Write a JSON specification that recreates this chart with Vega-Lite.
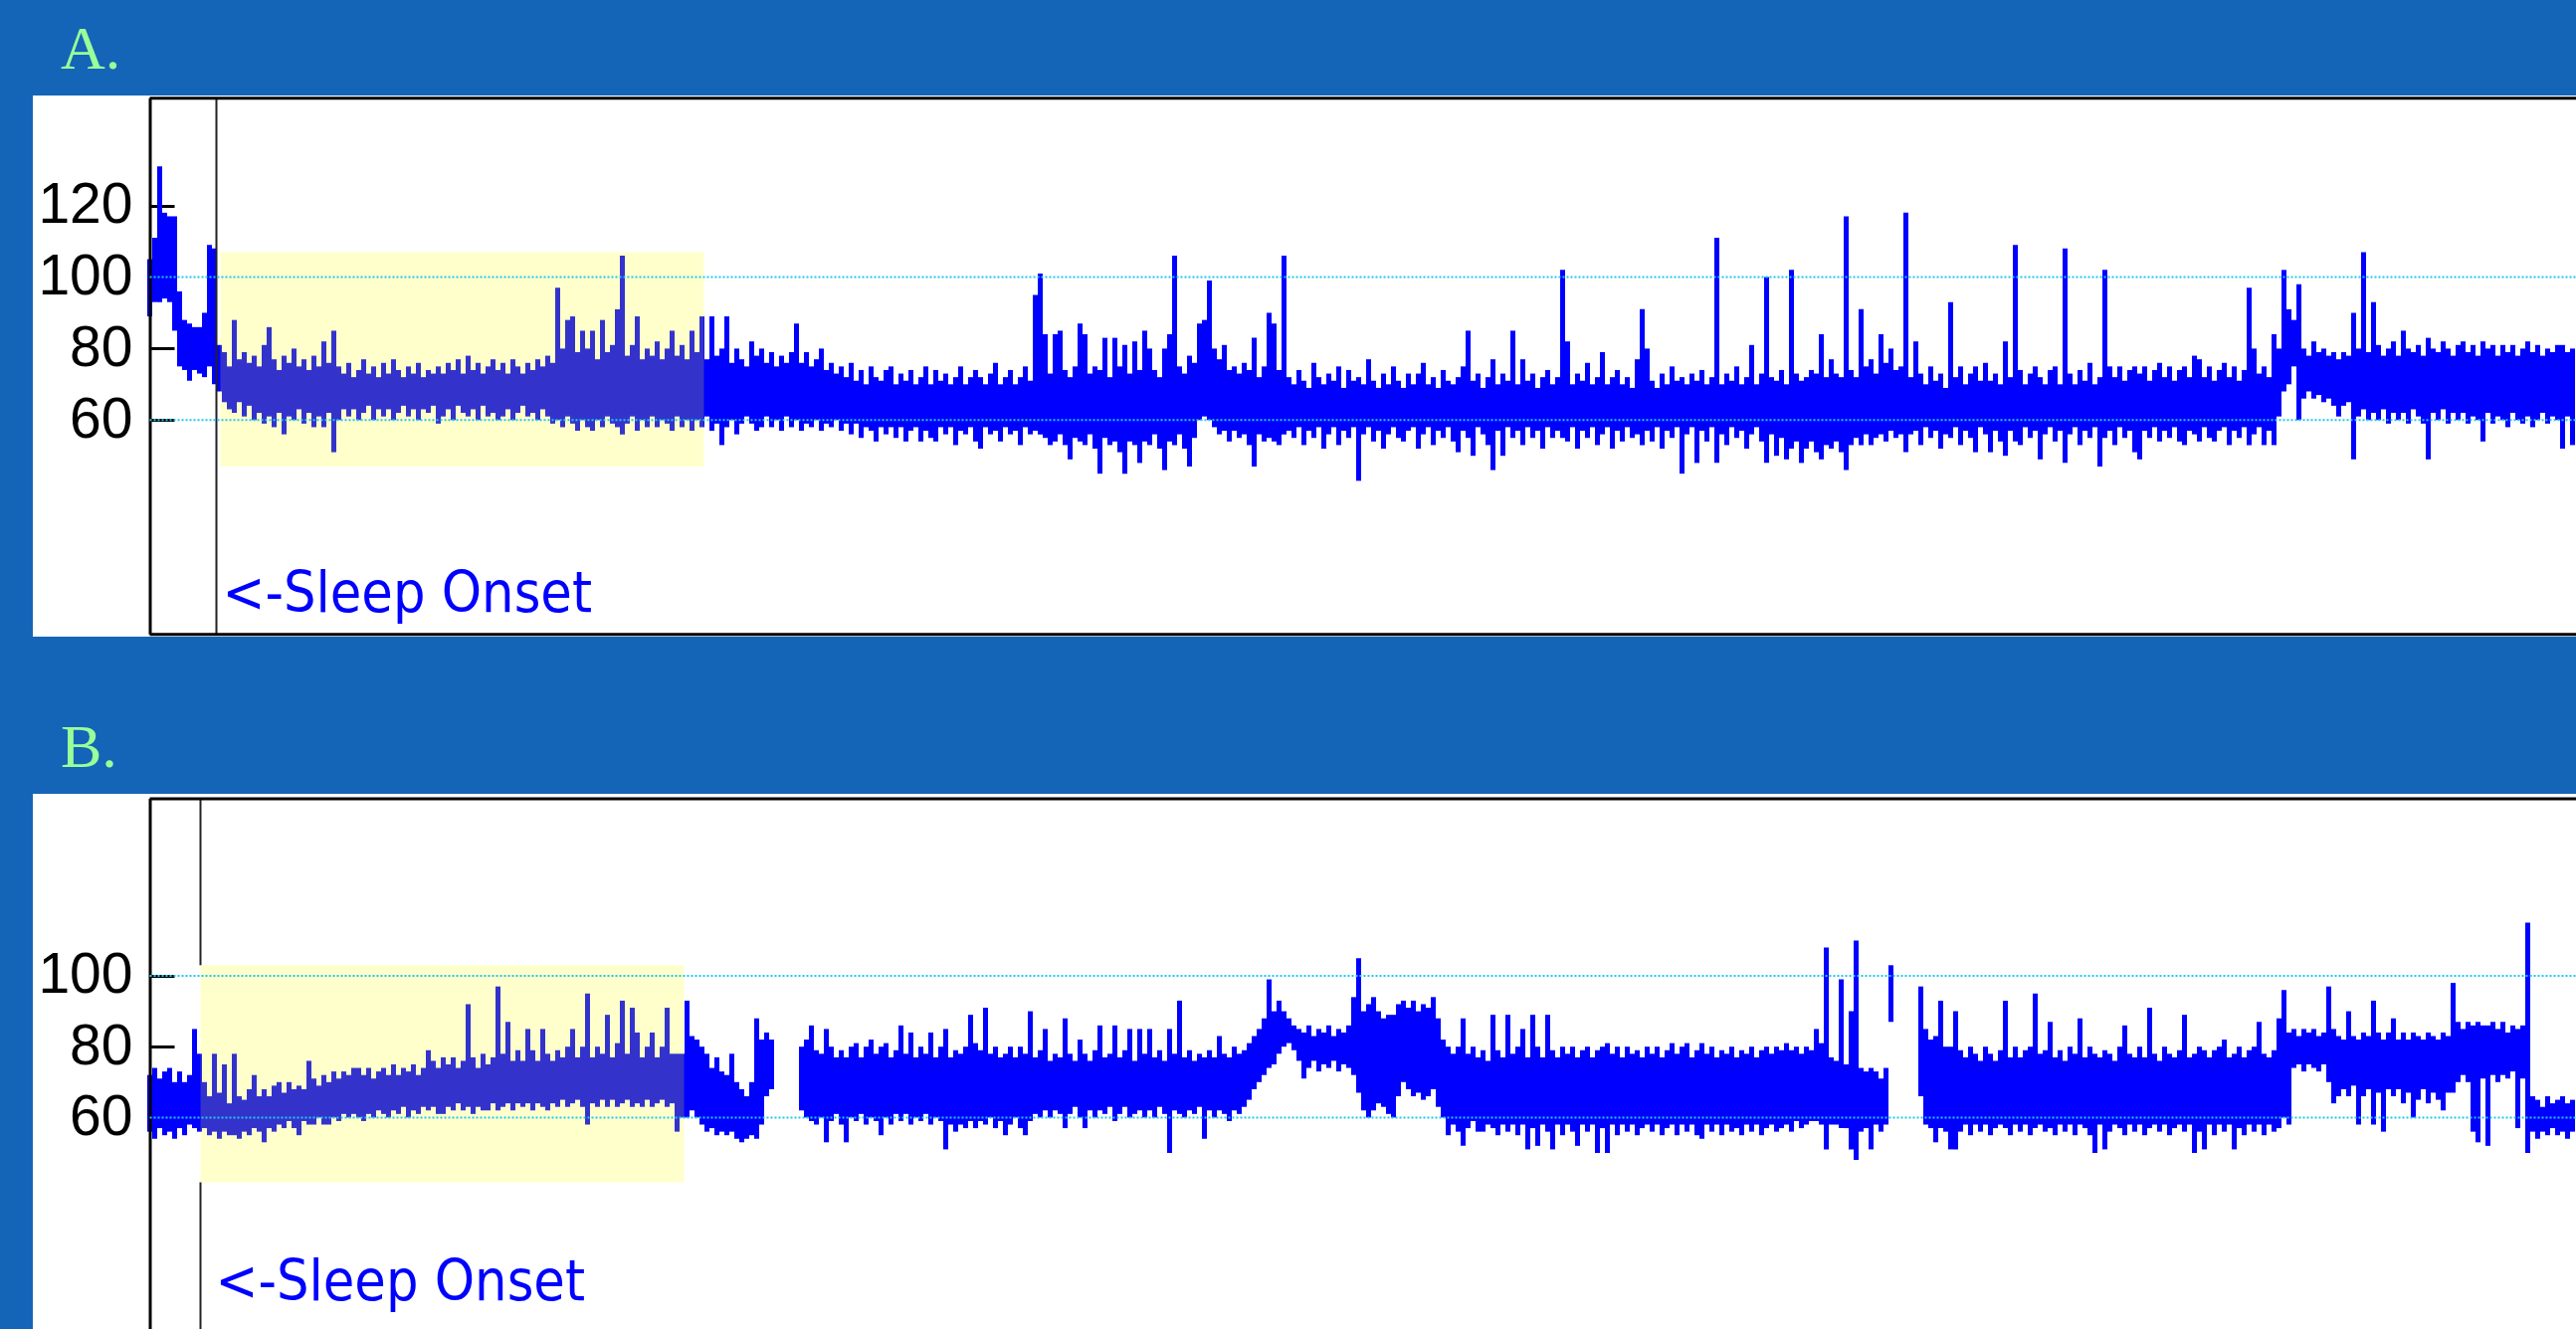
{
"$schema":"https://vega.github.io/schema/vega-lite/v6.json",
"background":"#1465B8",
"padding":{"left":33,"top":19,"right":0,"bottom":0},
"spacing":81,
"config":{"view":{"fill":"white","stroke":null},"title":{"font":"Liberation Serif, Times New Roman, serif","fontSize":62,"fontWeight":"normal","color":"#99FF99","anchor":"start","baseline":"alphabetic","dx":28},
"axisY":{"title":null,"grid":false,"offset":-118,"domain":false,"tickColor":"black","tickWidth":3,"tickSize":-24,"labelPadding":42,"labelFont":"Liberation Sans Narrow, Arial Narrow, Liberation Sans, sans-serif","labelFontSize":57,"labelColor":"black","labelFlush":false,"labelOverlap":false,"zindex":0}},
"datasets":{
"a":[{"t":0,"l":89,"h":105},{"t":1,"l":93,"h":111},{"t":2,"l":93,"h":131},{"t":3,"l":94,"h":118},{"t":4,"l":93,"h":117},{"t":5,"l":85,"h":117},{"t":6,"l":75,"h":96},{"t":7,"l":74,"h":88},{"t":8,"l":71,"h":87},{"t":9,"l":74,"h":86},{"t":10,"l":73,"h":86},{"t":11,"l":72,"h":90},{"t":12,"l":75,"h":109},{"t":13,"l":70,"h":108},{"t":14,"l":68,"h":81},{"t":15,"l":65,"h":79},{"t":16,"l":63,"h":75},{"t":17,"l":62,"h":88},{"t":18,"l":65,"h":77},{"t":19,"l":61,"h":79},{"t":20,"l":64,"h":76},{"t":21,"l":60,"h":78},{"t":22,"l":62,"h":75},{"t":23,"l":59,"h":81},{"t":24,"l":61,"h":86},{"t":25,"l":58,"h":77},{"t":26,"l":62,"h":74},{"t":27,"l":56,"h":78},{"t":28,"l":61,"h":76},{"t":29,"l":60,"h":80},{"t":30,"l":63,"h":75},{"t":31,"l":59,"h":77},{"t":32,"l":62,"h":74},{"t":33,"l":58,"h":78},{"t":34,"l":61,"h":75},{"t":35,"l":58,"h":82},{"t":36,"l":62,"h":76},{"t":37,"l":51,"h":85},{"t":38,"l":60,"h":75},{"t":39,"l":63,"h":73},
{"t":40,"l":61,"h":76},{"t":41,"l":63,"h":72},{"t":42,"l":60,"h":74},{"t":43,"l":62,"h":77},{"t":44,"l":64,"h":73},{"t":45,"l":60,"h":75},{"t":46,"l":63,"h":72},{"t":47,"l":61,"h":76},{"t":48,"l":63,"h":73},{"t":49,"l":60,"h":77},{"t":50,"l":62,"h":74},{"t":51,"l":64,"h":72},{"t":52,"l":61,"h":75},{"t":53,"l":63,"h":73},{"t":54,"l":60,"h":76},{"t":55,"l":63,"h":72},{"t":56,"l":62,"h":74},{"t":57,"l":64,"h":73},{"t":58,"l":59,"h":75},{"t":59,"l":61,"h":73},{"t":60,"l":63,"h":76},{"t":61,"l":60,"h":74},{"t":62,"l":64,"h":77},{"t":63,"l":62,"h":73},{"t":64,"l":61,"h":78},{"t":65,"l":63,"h":74},{"t":66,"l":60,"h":76},{"t":67,"l":64,"h":73},{"t":68,"l":61,"h":75},{"t":69,"l":62,"h":77},{"t":70,"l":60,"h":74},{"t":71,"l":61,"h":76},{"t":72,"l":63,"h":73},{"t":73,"l":60,"h":77},{"t":74,"l":62,"h":75},{"t":75,"l":64,"h":73},{"t":76,"l":61,"h":76},{"t":77,"l":62,"h":74},{"t":78,"l":60,"h":77},{"t":79,"l":63,"h":75},
{"t":80,"l":61,"h":78},{"t":81,"l":59,"h":76},{"t":82,"l":60,"h":97},{"t":83,"l":58,"h":80},{"t":84,"l":61,"h":88},{"t":85,"l":59,"h":89},{"t":86,"l":57,"h":79},{"t":87,"l":60,"h":85},{"t":88,"l":58,"h":80},{"t":89,"l":57,"h":85},{"t":90,"l":60,"h":77},{"t":91,"l":58,"h":88},{"t":92,"l":61,"h":79},{"t":93,"l":59,"h":81},{"t":94,"l":58,"h":91},{"t":95,"l":56,"h":106},{"t":96,"l":59,"h":78},{"t":97,"l":61,"h":81},{"t":98,"l":57,"h":89},{"t":99,"l":60,"h":77},{"t":100,"l":58,"h":80},{"t":101,"l":61,"h":78},{"t":102,"l":58,"h":82},{"t":103,"l":60,"h":77},{"t":104,"l":59,"h":80},{"t":105,"l":57,"h":85},{"t":106,"l":61,"h":78},{"t":107,"l":58,"h":81},{"t":108,"l":60,"h":77},{"t":109,"l":57,"h":85},{"t":110,"l":60,"h":79},{"t":111,"l":58,"h":89},{"t":112,"l":61,"h":77},{"t":113,"l":57,"h":89},{"t":114,"l":59,"h":78},{"t":115,"l":53,"h":80},{"t":116,"l":58,"h":89},{"t":117,"l":60,"h":76},{"t":118,"l":56,"h":80},{"t":119,"l":59,"h":77},
{"t":120,"l":61,"h":75},{"t":121,"l":59,"h":82},{"t":122,"l":57,"h":78},{"t":123,"l":58,"h":80},{"t":124,"l":61,"h":76},{"t":125,"l":58,"h":79},{"t":126,"l":60,"h":75},{"t":127,"l":57,"h":78},{"t":128,"l":61,"h":76},{"t":129,"l":58,"h":79},{"t":130,"l":60,"h":87},{"t":131,"l":57,"h":76},{"t":132,"l":59,"h":79},{"t":133,"l":58,"h":75},{"t":134,"l":60,"h":77},{"t":135,"l":57,"h":80},{"t":136,"l":59,"h":74},{"t":137,"l":58,"h":76},{"t":138,"l":60,"h":73},{"t":139,"l":57,"h":75},{"t":140,"l":59,"h":72},{"t":141,"l":56,"h":76},{"t":142,"l":59,"h":71},{"t":143,"l":55,"h":74},{"t":144,"l":58,"h":70},{"t":145,"l":57,"h":75},{"t":146,"l":54,"h":72},{"t":147,"l":58,"h":71},{"t":148,"l":56,"h":74},{"t":149,"l":58,"h":75},{"t":150,"l":55,"h":70},{"t":151,"l":58,"h":73},{"t":152,"l":54,"h":71},{"t":153,"l":57,"h":74},{"t":154,"l":58,"h":70},{"t":155,"l":54,"h":72},{"t":156,"l":57,"h":75},{"t":157,"l":55,"h":70},{"t":158,"l":54,"h":74},{"t":159,"l":58,"h":71},
{"t":160,"l":56,"h":73},{"t":161,"l":58,"h":70},{"t":162,"l":53,"h":72},{"t":163,"l":57,"h":75},{"t":164,"l":56,"h":70},{"t":165,"l":58,"h":72},{"t":166,"l":54,"h":74},{"t":167,"l":52,"h":72},{"t":168,"l":58,"h":70},{"t":169,"l":56,"h":73},{"t":170,"l":57,"h":76},{"t":171,"l":54,"h":70},{"t":172,"l":58,"h":72},{"t":173,"l":56,"h":74},{"t":174,"l":57,"h":70},{"t":175,"l":53,"h":72},{"t":176,"l":58,"h":75},{"t":177,"l":56,"h":71},{"t":178,"l":57,"h":95},{"t":179,"l":56,"h":101},{"t":180,"l":55,"h":84},{"t":181,"l":53,"h":73},{"t":182,"l":54,"h":84},{"t":183,"l":56,"h":85},{"t":184,"l":53,"h":74},{"t":185,"l":49,"h":72},{"t":186,"l":55,"h":75},{"t":187,"l":54,"h":87},{"t":188,"l":53,"h":84},{"t":189,"l":56,"h":73},{"t":190,"l":52,"h":75},{"t":191,"l":45,"h":74},{"t":192,"l":55,"h":83},{"t":193,"l":53,"h":72},{"t":194,"l":54,"h":83},{"t":195,"l":51,"h":75},{"t":196,"l":45,"h":81},{"t":197,"l":54,"h":73},{"t":198,"l":53,"h":82},{"t":199,"l":48,"h":74},
{"t":200,"l":54,"h":85},{"t":201,"l":53,"h":80},{"t":202,"l":56,"h":74},{"t":203,"l":52,"h":72},{"t":204,"l":46,"h":80},{"t":205,"l":54,"h":84},{"t":206,"l":53,"h":106},{"t":207,"l":56,"h":75},{"t":208,"l":52,"h":73},{"t":209,"l":47,"h":78},{"t":210,"l":55,"h":76},{"t":211,"l":60,"h":87},{"t":212,"l":61,"h":88},{"t":213,"l":60,"h":99},{"t":214,"l":58,"h":80},{"t":215,"l":56,"h":77},{"t":216,"l":57,"h":81},{"t":217,"l":54,"h":74},{"t":218,"l":57,"h":75},{"t":219,"l":55,"h":73},{"t":220,"l":56,"h":76},{"t":221,"l":53,"h":74},{"t":222,"l":47,"h":83},{"t":223,"l":56,"h":72},{"t":224,"l":54,"h":75},{"t":225,"l":55,"h":90},{"t":226,"l":54,"h":87},{"t":227,"l":53,"h":74},{"t":228,"l":56,"h":106},{"t":229,"l":57,"h":72},{"t":230,"l":55,"h":70},{"t":231,"l":58,"h":74},{"t":232,"l":53,"h":71},{"t":233,"l":57,"h":69},{"t":234,"l":55,"h":76},{"t":235,"l":58,"h":72},{"t":236,"l":52,"h":70},{"t":237,"l":56,"h":73},{"t":238,"l":58,"h":71},{"t":239,"l":53,"h":75},
{"t":240,"l":57,"h":69},{"t":241,"l":55,"h":74},{"t":242,"l":58,"h":71},{"t":243,"l":43,"h":72},{"t":244,"l":56,"h":70},{"t":245,"l":58,"h":77},{"t":246,"l":54,"h":71},{"t":247,"l":57,"h":69},{"t":248,"l":52,"h":73},{"t":249,"l":56,"h":70},{"t":250,"l":58,"h":75},{"t":251,"l":55,"h":71},{"t":252,"l":54,"h":69},{"t":253,"l":57,"h":73},{"t":254,"l":58,"h":70},{"t":255,"l":52,"h":73},{"t":256,"l":56,"h":76},{"t":257,"l":58,"h":70},{"t":258,"l":53,"h":72},{"t":259,"l":57,"h":69},{"t":260,"l":55,"h":74},{"t":261,"l":58,"h":71},{"t":262,"l":54,"h":70},{"t":263,"l":51,"h":72},{"t":264,"l":57,"h":75},{"t":265,"l":55,"h":85},{"t":266,"l":50,"h":71},{"t":267,"l":58,"h":73},{"t":268,"l":56,"h":69},{"t":269,"l":53,"h":72},{"t":270,"l":46,"h":77},{"t":271,"l":57,"h":70},{"t":272,"l":50,"h":73},{"t":273,"l":58,"h":71},{"t":274,"l":55,"h":85},{"t":275,"l":57,"h":70},{"t":276,"l":53,"h":77},{"t":277,"l":58,"h":71},{"t":278,"l":55,"h":73},{"t":279,"l":57,"h":69},
{"t":280,"l":52,"h":72},{"t":281,"l":58,"h":74},{"t":282,"l":55,"h":70},{"t":283,"l":57,"h":72},{"t":284,"l":55,"h":102},{"t":285,"l":54,"h":82},{"t":286,"l":58,"h":70},{"t":287,"l":52,"h":73},{"t":288,"l":57,"h":71},{"t":289,"l":55,"h":76},{"t":290,"l":58,"h":70},{"t":291,"l":53,"h":72},{"t":292,"l":56,"h":79},{"t":293,"l":58,"h":70},{"t":294,"l":52,"h":72},{"t":295,"l":57,"h":74},{"t":296,"l":54,"h":70},{"t":297,"l":58,"h":72},{"t":298,"l":55,"h":69},{"t":299,"l":56,"h":77},{"t":300,"l":53,"h":91},{"t":301,"l":57,"h":80},{"t":302,"l":54,"h":71},{"t":303,"l":58,"h":69},{"t":304,"l":52,"h":73},{"t":305,"l":57,"h":70},{"t":306,"l":55,"h":75},{"t":307,"l":58,"h":71},{"t":308,"l":45,"h":72},{"t":309,"l":56,"h":70},{"t":310,"l":58,"h":73},{"t":311,"l":48,"h":71},{"t":312,"l":57,"h":74},{"t":313,"l":54,"h":70},{"t":314,"l":58,"h":72},{"t":315,"l":48,"h":111},{"t":316,"l":56,"h":70},{"t":317,"l":53,"h":73},{"t":318,"l":58,"h":71},{"t":319,"l":55,"h":75},
{"t":320,"l":57,"h":70},{"t":321,"l":52,"h":72},{"t":322,"l":56,"h":81},{"t":323,"l":58,"h":70},{"t":324,"l":54,"h":73},{"t":325,"l":48,"h":100},{"t":326,"l":56,"h":72},{"t":327,"l":50,"h":71},{"t":328,"l":55,"h":74},{"t":329,"l":49,"h":70},{"t":330,"l":52,"h":102},{"t":331,"l":54,"h":73},{"t":332,"l":48,"h":71},{"t":333,"l":52,"h":72},{"t":334,"l":54,"h":74},{"t":335,"l":51,"h":73},{"t":336,"l":49,"h":84},{"t":337,"l":53,"h":72},{"t":338,"l":52,"h":77},{"t":339,"l":54,"h":73},{"t":340,"l":51,"h":72},{"t":341,"l":46,"h":117},{"t":342,"l":53,"h":74},{"t":343,"l":55,"h":72},{"t":344,"l":53,"h":91},{"t":345,"l":56,"h":75},{"t":346,"l":53,"h":77},{"t":347,"l":55,"h":73},{"t":348,"l":56,"h":84},{"t":349,"l":54,"h":76},{"t":350,"l":57,"h":80},{"t":351,"l":55,"h":74},{"t":352,"l":56,"h":75},{"t":353,"l":51,"h":118},{"t":354,"l":56,"h":72},{"t":355,"l":57,"h":82},{"t":356,"l":53,"h":73},{"t":357,"l":58,"h":70},{"t":358,"l":55,"h":75},{"t":359,"l":57,"h":71},
{"t":360,"l":52,"h":73},{"t":361,"l":56,"h":69},{"t":362,"l":55,"h":93},{"t":363,"l":58,"h":72},{"t":364,"l":53,"h":75},{"t":365,"l":57,"h":70},{"t":366,"l":55,"h":73},{"t":367,"l":51,"h":75},{"t":368,"l":58,"h":71},{"t":369,"l":56,"h":76},{"t":370,"l":51,"h":71},{"t":371,"l":57,"h":73},{"t":372,"l":54,"h":70},{"t":373,"l":50,"h":82},{"t":374,"l":57,"h":72},{"t":375,"l":54,"h":109},{"t":376,"l":53,"h":74},{"t":377,"l":58,"h":70},{"t":378,"l":55,"h":73},{"t":379,"l":57,"h":75},{"t":380,"l":49,"h":72},{"t":381,"l":56,"h":70},{"t":382,"l":58,"h":74},{"t":383,"l":54,"h":75},{"t":384,"l":57,"h":70},{"t":385,"l":48,"h":108},{"t":386,"l":56,"h":73},{"t":387,"l":58,"h":70},{"t":388,"l":53,"h":74},{"t":389,"l":57,"h":71},{"t":390,"l":55,"h":76},{"t":391,"l":58,"h":70},{"t":392,"l":47,"h":72},{"t":393,"l":55,"h":102},{"t":394,"l":57,"h":75},{"t":395,"l":53,"h":72},{"t":396,"l":58,"h":75},{"t":397,"l":55,"h":71},{"t":398,"l":57,"h":74},{"t":399,"l":51,"h":75},
{"t":400,"l":49,"h":73},{"t":401,"l":57,"h":75},{"t":402,"l":55,"h":71},{"t":403,"l":58,"h":74},{"t":404,"l":54,"h":76},{"t":405,"l":57,"h":72},{"t":406,"l":55,"h":75},{"t":407,"l":58,"h":71},{"t":408,"l":54,"h":74},{"t":409,"l":53,"h":75},{"t":410,"l":57,"h":72},{"t":411,"l":56,"h":78},{"t":412,"l":54,"h":77},{"t":413,"l":58,"h":72},{"t":414,"l":55,"h":75},{"t":415,"l":54,"h":71},{"t":416,"l":57,"h":74},{"t":417,"l":58,"h":76},{"t":418,"l":53,"h":72},{"t":419,"l":57,"h":75},{"t":420,"l":55,"h":71},{"t":421,"l":58,"h":74},{"t":422,"l":53,"h":97},{"t":423,"l":56,"h":80},{"t":424,"l":58,"h":73},{"t":425,"l":53,"h":75},{"t":426,"l":57,"h":72},{"t":427,"l":53,"h":84},{"t":428,"l":61,"h":80},{"t":429,"l":68,"h":102},{"t":430,"l":70,"h":91},{"t":431,"l":75,"h":88},{"t":432,"l":60,"h":98},{"t":433,"l":66,"h":80},{"t":434,"l":68,"h":78},{"t":435,"l":66,"h":82},{"t":436,"l":67,"h":79},{"t":437,"l":65,"h":80},{"t":438,"l":66,"h":78},{"t":439,"l":64,"h":79},
{"t":440,"l":61,"h":77},{"t":441,"l":64,"h":79},{"t":442,"l":65,"h":78},{"t":443,"l":49,"h":90},{"t":444,"l":61,"h":80},{"t":445,"l":63,"h":107},{"t":446,"l":60,"h":79},{"t":447,"l":62,"h":93},{"t":448,"l":60,"h":81},{"t":449,"l":63,"h":78},{"t":450,"l":59,"h":80},{"t":451,"l":62,"h":82},{"t":452,"l":60,"h":78},{"t":453,"l":62,"h":85},{"t":454,"l":59,"h":80},{"t":455,"l":63,"h":79},{"t":456,"l":61,"h":81},{"t":457,"l":59,"h":78},{"t":458,"l":49,"h":83},{"t":459,"l":62,"h":80},{"t":460,"l":60,"h":79},{"t":461,"l":63,"h":82},{"t":462,"l":59,"h":80},{"t":463,"l":62,"h":78},{"t":464,"l":60,"h":81},{"t":465,"l":62,"h":82},{"t":466,"l":59,"h":79},{"t":467,"l":61,"h":81},{"t":468,"l":60,"h":78},{"t":469,"l":54,"h":82},{"t":470,"l":62,"h":80},{"t":471,"l":59,"h":81},{"t":472,"l":61,"h":78},{"t":473,"l":60,"h":81},{"t":474,"l":58,"h":79},{"t":475,"l":62,"h":81},{"t":476,"l":60,"h":78},{"t":477,"l":59,"h":80},{"t":478,"l":61,"h":82},{"t":479,"l":58,"h":79},
{"t":480,"l":60,"h":81},{"t":481,"l":62,"h":78},{"t":482,"l":59,"h":80},{"t":483,"l":61,"h":79},{"t":484,"l":60,"h":81},{"t":485,"l":52,"h":81},{"t":486,"l":61,"h":79},{"t":487,"l":53,"h":80}],
"b":[{"t":0,"l":56,"h":72},{"t":1,"l":54,"h":74},{"t":2,"l":57,"h":71},{"t":3,"l":55,"h":73},{"t":4,"l":56,"h":74},{"t":5,"l":54,"h":70},{"t":6,"l":57,"h":73},{"t":7,"l":55,"h":70},{"t":8,"l":58,"h":72},{"t":9,"l":57,"h":85},{"t":10,"l":56,"h":78},{"t":11,"l":57,"h":70},{"t":12,"l":55,"h":66},{"t":13,"l":56,"h":78},{"t":14,"l":54,"h":67},{"t":15,"l":56,"h":75},{"t":16,"l":55,"h":64},{"t":17,"l":55,"h":78},{"t":18,"l":54,"h":66},{"t":19,"l":56,"h":65},{"t":20,"l":55,"h":68},{"t":21,"l":57,"h":72},{"t":22,"l":56,"h":66},{"t":23,"l":53,"h":68},{"t":24,"l":57,"h":66},{"t":25,"l":56,"h":69},{"t":26,"l":58,"h":70},{"t":27,"l":57,"h":67},{"t":28,"l":59,"h":70},{"t":29,"l":57,"h":68},{"t":30,"l":55,"h":69},{"t":31,"l":59,"h":68},{"t":32,"l":58,"h":76},{"t":33,"l":58,"h":71},{"t":34,"l":60,"h":69},{"t":35,"l":58,"h":72},{"t":36,"l":58,"h":70},{"t":37,"l":60,"h":73},{"t":38,"l":59,"h":71},{"t":39,"l":61,"h":73},
{"t":40,"l":60,"h":72},{"t":41,"l":61,"h":74},{"t":42,"l":60,"h":74},{"t":43,"l":59,"h":72},{"t":44,"l":61,"h":74},{"t":45,"l":60,"h":71},{"t":46,"l":62,"h":73},{"t":47,"l":61,"h":74},{"t":48,"l":60,"h":72},{"t":49,"l":62,"h":75},{"t":50,"l":61,"h":72},{"t":51,"l":63,"h":74},{"t":52,"l":60,"h":73},{"t":53,"l":62,"h":75},{"t":54,"l":61,"h":72},{"t":55,"l":63,"h":74},{"t":56,"l":62,"h":79},{"t":57,"l":63,"h":76},{"t":58,"l":61,"h":74},{"t":59,"l":61,"h":77},{"t":60,"l":63,"h":75},{"t":61,"l":62,"h":77},{"t":62,"l":64,"h":74},{"t":63,"l":62,"h":76},{"t":64,"l":63,"h":92},{"t":65,"l":61,"h":77},{"t":66,"l":63,"h":74},{"t":67,"l":62,"h":78},{"t":68,"l":62,"h":75},{"t":69,"l":64,"h":77},{"t":70,"l":62,"h":97},{"t":71,"l":63,"h":78},{"t":72,"l":64,"h":87},{"t":73,"l":62,"h":76},{"t":74,"l":64,"h":79},{"t":75,"l":63,"h":76},{"t":76,"l":64,"h":85},{"t":77,"l":62,"h":79},{"t":78,"l":64,"h":76},{"t":79,"l":63,"h":85},
{"t":80,"l":62,"h":78},{"t":81,"l":64,"h":76},{"t":82,"l":63,"h":79},{"t":83,"l":65,"h":77},{"t":84,"l":63,"h":80},{"t":85,"l":64,"h":85},{"t":86,"l":65,"h":77},{"t":87,"l":63,"h":80},{"t":88,"l":58,"h":95},{"t":89,"l":64,"h":77},{"t":90,"l":63,"h":80},{"t":91,"l":65,"h":78},{"t":92,"l":63,"h":89},{"t":93,"l":65,"h":77},{"t":94,"l":63,"h":81},{"t":95,"l":64,"h":93},{"t":96,"l":65,"h":78},{"t":97,"l":63,"h":91},{"t":98,"l":64,"h":84},{"t":99,"l":63,"h":77},{"t":100,"l":65,"h":80},{"t":101,"l":63,"h":84},{"t":102,"l":64,"h":77},{"t":103,"l":65,"h":80},{"t":104,"l":63,"h":91},{"t":105,"l":64,"h":78},{"t":106,"l":56,"h":78},{"t":107,"l":60,"h":78},{"t":108,"l":60,"h":93},{"t":109,"l":62,"h":83},{"t":110,"l":60,"h":82},{"t":111,"l":58,"h":80},{"t":112,"l":56,"h":78},{"t":113,"l":57,"h":74},{"t":114,"l":55,"h":77},{"t":115,"l":56,"h":73},{"t":116,"l":55,"h":72},{"t":117,"l":56,"h":78},{"t":118,"l":54,"h":70},{"t":119,"l":53,"h":68},
{"t":120,"l":54,"h":66},{"t":121,"l":55,"h":70},{"t":122,"l":54,"h":88},{"t":123,"l":58,"h":82},{"t":124,"l":66,"h":84},{"t":125,"l":68,"h":82},{"t":131,"l":62,"h":80},{"t":132,"l":60,"h":82},{"t":133,"l":59,"h":86},{"t":134,"l":58,"h":79},{"t":135,"l":60,"h":78},{"t":136,"l":53,"h":85},{"t":137,"l":59,"h":80},{"t":138,"l":61,"h":77},{"t":139,"l":58,"h":79},{"t":140,"l":53,"h":77},{"t":141,"l":60,"h":80},{"t":142,"l":59,"h":81},{"t":143,"l":61,"h":77},{"t":144,"l":58,"h":80},{"t":145,"l":60,"h":82},{"t":146,"l":59,"h":78},{"t":147,"l":55,"h":80},{"t":148,"l":60,"h":81},{"t":149,"l":58,"h":77},{"t":150,"l":61,"h":79},{"t":151,"l":59,"h":86},{"t":152,"l":61,"h":78},{"t":153,"l":58,"h":84},{"t":154,"l":60,"h":77},{"t":155,"l":59,"h":80},{"t":156,"l":61,"h":78},{"t":157,"l":58,"h":84},{"t":158,"l":60,"h":77},{"t":159,"l":59,"h":80},
{"t":160,"l":51,"h":85},{"t":161,"l":58,"h":77},{"t":162,"l":56,"h":79},{"t":163,"l":58,"h":78},{"t":164,"l":57,"h":80},{"t":165,"l":59,"h":89},{"t":166,"l":57,"h":81},{"t":167,"l":59,"h":79},{"t":168,"l":58,"h":91},{"t":169,"l":60,"h":78},{"t":170,"l":57,"h":80},{"t":171,"l":59,"h":77},{"t":172,"l":55,"h":78},{"t":173,"l":58,"h":80},{"t":174,"l":60,"h":77},{"t":175,"l":57,"h":80},{"t":176,"l":55,"h":78},{"t":177,"l":59,"h":90},{"t":178,"l":61,"h":77},{"t":179,"l":60,"h":79},{"t":180,"l":62,"h":85},{"t":181,"l":60,"h":76},{"t":182,"l":62,"h":78},{"t":183,"l":61,"h":77},{"t":184,"l":57,"h":88},{"t":185,"l":61,"h":78},{"t":186,"l":63,"h":76},{"t":187,"l":60,"h":82},{"t":188,"l":57,"h":78},{"t":189,"l":62,"h":76},{"t":190,"l":60,"h":79},{"t":191,"l":62,"h":86},{"t":192,"l":61,"h":77},{"t":193,"l":63,"h":78},{"t":194,"l":59,"h":86},{"t":195,"l":61,"h":77},{"t":196,"l":63,"h":79},{"t":197,"l":60,"h":85},{"t":198,"l":61,"h":76},{"t":199,"l":62,"h":85},
{"t":200,"l":60,"h":78},{"t":201,"l":62,"h":85},{"t":202,"l":60,"h":77},{"t":203,"l":63,"h":79},{"t":204,"l":61,"h":76},{"t":205,"l":50,"h":85},{"t":206,"l":62,"h":78},{"t":207,"l":61,"h":93},{"t":208,"l":60,"h":77},{"t":209,"l":62,"h":79},{"t":210,"l":61,"h":76},{"t":211,"l":63,"h":78},{"t":212,"l":54,"h":77},{"t":213,"l":62,"h":79},{"t":214,"l":60,"h":77},{"t":215,"l":62,"h":83},{"t":216,"l":61,"h":78},{"t":217,"l":59,"h":77},{"t":218,"l":62,"h":80},{"t":219,"l":61,"h":78},{"t":220,"l":63,"h":79},{"t":221,"l":65,"h":81},{"t":222,"l":68,"h":83},{"t":223,"l":70,"h":85},{"t":224,"l":72,"h":88},{"t":225,"l":74,"h":99},{"t":226,"l":75,"h":90},{"t":227,"l":78,"h":93},{"t":228,"l":80,"h":90},{"t":229,"l":81,"h":88},{"t":230,"l":79,"h":86},{"t":231,"l":76,"h":85},{"t":232,"l":71,"h":84},{"t":233,"l":74,"h":86},{"t":234,"l":76,"h":83},{"t":235,"l":73,"h":85},{"t":236,"l":75,"h":84},{"t":237,"l":74,"h":86},{"t":238,"l":76,"h":83},{"t":239,"l":73,"h":85},
{"t":240,"l":75,"h":84},{"t":241,"l":74,"h":86},{"t":242,"l":72,"h":94},{"t":243,"l":67,"h":105},{"t":244,"l":62,"h":90},{"t":245,"l":60,"h":92},{"t":246,"l":62,"h":94},{"t":247,"l":64,"h":90},{"t":248,"l":63,"h":88},{"t":249,"l":61,"h":89},{"t":250,"l":60,"h":89},{"t":251,"l":66,"h":92},{"t":252,"l":70,"h":93},{"t":253,"l":68,"h":91},{"t":254,"l":66,"h":93},{"t":255,"l":67,"h":90},{"t":256,"l":65,"h":92},{"t":257,"l":66,"h":91},{"t":258,"l":68,"h":94},{"t":259,"l":63,"h":88},{"t":260,"l":60,"h":82},{"t":261,"l":55,"h":80},{"t":262,"l":58,"h":78},{"t":263,"l":56,"h":80},{"t":264,"l":52,"h":88},{"t":265,"l":57,"h":78},{"t":266,"l":59,"h":80},{"t":267,"l":56,"h":77},{"t":268,"l":56,"h":79},{"t":269,"l":58,"h":76},{"t":270,"l":57,"h":89},{"t":271,"l":55,"h":79},{"t":272,"l":58,"h":77},{"t":273,"l":56,"h":89},{"t":274,"l":58,"h":78},{"t":275,"l":55,"h":80},{"t":276,"l":58,"h":85},{"t":277,"l":51,"h":77},{"t":278,"l":57,"h":89},{"t":279,"l":52,"h":80},
{"t":280,"l":58,"h":77},{"t":281,"l":56,"h":89},{"t":282,"l":51,"h":79},{"t":283,"l":58,"h":77},{"t":284,"l":55,"h":80},{"t":285,"l":58,"h":78},{"t":286,"l":56,"h":80},{"t":287,"l":52,"h":77},{"t":288,"l":58,"h":79},{"t":289,"l":56,"h":80},{"t":290,"l":58,"h":77},{"t":291,"l":50,"h":79},{"t":292,"l":57,"h":80},{"t":293,"l":50,"h":81},{"t":294,"l":58,"h":78},{"t":295,"l":55,"h":80},{"t":296,"l":58,"h":77},{"t":297,"l":56,"h":80},{"t":298,"l":58,"h":78},{"t":299,"l":55,"h":79},{"t":300,"l":57,"h":77},{"t":301,"l":58,"h":80},{"t":302,"l":56,"h":78},{"t":303,"l":58,"h":80},{"t":304,"l":55,"h":77},{"t":305,"l":57,"h":79},{"t":306,"l":58,"h":81},{"t":307,"l":55,"h":78},{"t":308,"l":58,"h":80},{"t":309,"l":56,"h":81},{"t":310,"l":58,"h":77},{"t":311,"l":55,"h":79},{"t":312,"l":54,"h":81},{"t":313,"l":58,"h":78},{"t":314,"l":56,"h":80},{"t":315,"l":58,"h":77},{"t":316,"l":55,"h":79},{"t":317,"l":58,"h":78},{"t":318,"l":56,"h":80},{"t":319,"l":57,"h":77},
{"t":320,"l":55,"h":79},{"t":321,"l":58,"h":78},{"t":322,"l":56,"h":80},{"t":323,"l":58,"h":77},{"t":324,"l":55,"h":79},{"t":325,"l":57,"h":80},{"t":326,"l":58,"h":78},{"t":327,"l":56,"h":80},{"t":328,"l":57,"h":79},{"t":329,"l":58,"h":81},{"t":330,"l":56,"h":79},{"t":331,"l":59,"h":80},{"t":332,"l":57,"h":78},{"t":333,"l":58,"h":80},{"t":334,"l":59,"h":79},{"t":335,"l":59,"h":85},{"t":336,"l":58,"h":81},{"t":337,"l":51,"h":108},{"t":338,"l":58,"h":77},{"t":339,"l":58,"h":76},{"t":340,"l":57,"h":99},{"t":341,"l":57,"h":75},{"t":342,"l":51,"h":90},{"t":343,"l":48,"h":110},{"t":344,"l":56,"h":74},{"t":345,"l":57,"h":73},{"t":346,"l":51,"h":74},{"t":347,"l":58,"h":73},{"t":348,"l":56,"h":71},{"t":349,"l":58,"h":74},{"t":350,"l":87,"h":103},{"t":356,"l":66,"h":97},{"t":357,"l":58,"h":85},{"t":358,"l":57,"h":82},{"t":359,"l":53,"h":83},
{"t":360,"l":57,"h":93},{"t":361,"l":56,"h":80},{"t":362,"l":51,"h":80},{"t":363,"l":51,"h":90},{"t":364,"l":56,"h":79},{"t":365,"l":58,"h":77},{"t":366,"l":55,"h":80},{"t":367,"l":58,"h":78},{"t":368,"l":56,"h":76},{"t":369,"l":58,"h":80},{"t":370,"l":55,"h":78},{"t":371,"l":57,"h":76},{"t":372,"l":58,"h":79},{"t":373,"l":57,"h":93},{"t":374,"l":55,"h":77},{"t":375,"l":58,"h":80},{"t":376,"l":56,"h":77},{"t":377,"l":58,"h":79},{"t":378,"l":55,"h":80},{"t":379,"l":57,"h":95},{"t":380,"l":58,"h":78},{"t":381,"l":56,"h":79},{"t":382,"l":57,"h":87},{"t":383,"l":55,"h":77},{"t":384,"l":58,"h":79},{"t":385,"l":56,"h":76},{"t":386,"l":58,"h":80},{"t":387,"l":55,"h":78},{"t":388,"l":58,"h":88},{"t":389,"l":57,"h":77},{"t":390,"l":55,"h":80},{"t":391,"l":50,"h":78},{"t":392,"l":58,"h":77},{"t":393,"l":51,"h":79},{"t":394,"l":56,"h":78},{"t":395,"l":58,"h":76},{"t":396,"l":57,"h":80},{"t":397,"l":55,"h":86},{"t":398,"l":58,"h":78},{"t":399,"l":56,"h":77},
{"t":400,"l":58,"h":80},{"t":401,"l":55,"h":77},{"t":402,"l":57,"h":91},{"t":403,"l":58,"h":78},{"t":404,"l":56,"h":76},{"t":405,"l":58,"h":80},{"t":406,"l":55,"h":78},{"t":407,"l":57,"h":77},{"t":408,"l":58,"h":79},{"t":409,"l":56,"h":89},{"t":410,"l":58,"h":77},{"t":411,"l":50,"h":78},{"t":412,"l":56,"h":80},{"t":413,"l":51,"h":79},{"t":414,"l":58,"h":77},{"t":415,"l":55,"h":79},{"t":416,"l":58,"h":80},{"t":417,"l":56,"h":82},{"t":418,"l":58,"h":77},{"t":419,"l":51,"h":78},{"t":420,"l":57,"h":80},{"t":421,"l":55,"h":77},{"t":422,"l":58,"h":79},{"t":423,"l":56,"h":80},{"t":424,"l":58,"h":87},{"t":425,"l":55,"h":78},{"t":426,"l":58,"h":77},{"t":427,"l":56,"h":79},{"t":428,"l":57,"h":88},{"t":429,"l":60,"h":96},{"t":430,"l":58,"h":84},{"t":431,"l":74,"h":85},{"t":432,"l":75,"h":83},{"t":433,"l":73,"h":85},{"t":434,"l":75,"h":84},{"t":435,"l":74,"h":85},{"t":436,"l":73,"h":83},{"t":437,"l":75,"h":84},{"t":438,"l":70,"h":97},{"t":439,"l":64,"h":85},
{"t":440,"l":66,"h":83},{"t":441,"l":68,"h":82},{"t":442,"l":66,"h":90},{"t":443,"l":69,"h":83},{"t":444,"l":58,"h":82},{"t":445,"l":66,"h":84},{"t":446,"l":68,"h":83},{"t":447,"l":58,"h":93},{"t":448,"l":67,"h":84},{"t":449,"l":56,"h":82},{"t":450,"l":68,"h":84},{"t":451,"l":66,"h":88},{"t":452,"l":68,"h":82},{"t":453,"l":64,"h":84},{"t":454,"l":67,"h":82},{"t":455,"l":60,"h":84},{"t":456,"l":65,"h":83},{"t":457,"l":68,"h":82},{"t":458,"l":64,"h":84},{"t":459,"l":67,"h":83},{"t":460,"l":65,"h":82},{"t":461,"l":62,"h":84},{"t":462,"l":67,"h":83},{"t":463,"l":67,"h":98},{"t":464,"l":70,"h":87},{"t":465,"l":72,"h":85},{"t":466,"l":70,"h":87},{"t":467,"l":56,"h":86},{"t":468,"l":53,"h":87},{"t":469,"l":71,"h":86},{"t":470,"l":52,"h":86},{"t":471,"l":72,"h":87},{"t":472,"l":70,"h":85},{"t":473,"l":72,"h":87},{"t":474,"l":71,"h":84},{"t":475,"l":73,"h":86},{"t":476,"l":57,"h":85},{"t":477,"l":71,"h":86},{"t":478,"l":50,"h":115},{"t":479,"l":56,"h":66},
{"t":480,"l":54,"h":65},{"t":481,"l":56,"h":63},{"t":482,"l":55,"h":66},{"t":483,"l":57,"h":64},{"t":484,"l":55,"h":65},{"t":485,"l":56,"h":66},{"t":486,"l":54,"h":64},{"t":487,"l":56,"h":65}]
},
"vconcat":[
{"width":2556,"height":544,"title":{"text":"A.","offset":14},
"layer":[
{"data":{"name":"a"},"mark":{"type":"rule","color":"#0000FF","strokeWidth":5},
"encoding":{"x":{"field":"t","type":"quantitative","scale":{"domain":[-23.5,487.7],"nice":false,"zero":false},"axis":null},"y":{"field":"l","type":"quantitative","scale":{"domain":[-0.6,150.8],"nice":false,"zero":false},"axis":{"values":[60,80,100,120]}},"y2":{"field":"h"}}},
{"data":{"values":[{"t":13.4,"y1":0,"y2":150,"k":"onset"},{"t":0.1,"y1":0,"y2":150,"k":"frame"}]},"mark":{"type":"rule"},
"encoding":{"x":{"field":"t","type":"quantitative","axis":null},"y":{"field":"y1","type":"quantitative","axis":{"values":[60,80,100,120]}},"y2":{"field":"y2"},
"color":{"field":"k","type":"nominal","scale":{"domain":["onset","frame"],"range":["#222222","#000000"]},"legend":null},
"strokeWidth":{"field":"k","type":"nominal","scale":{"domain":["onset","frame"],"range":[2,3]},"legend":null}}},
{"data":{"values":[{"t1":14.2,"t2":111.4,"y1":47,"y2":107}]},"mark":{"type":"rect","color":"#FFFF00","opacity":0.2},
"encoding":{"x":{"field":"t1","type":"quantitative","axis":null},"x2":{"field":"t2"},"y":{"field":"y1","type":"quantitative","axis":{"values":[60,80,100,120]}},"y2":{"field":"y2"}}},
{"data":{"values":[{"t1":0,"t2":487.7,"v":150},{"t1":0,"t2":487.7,"v":0}]},"mark":{"type":"rule","color":"black","strokeWidth":3},
"encoding":{"x":{"field":"t1","type":"quantitative","axis":null},"x2":{"field":"t2"},"y":{"field":"v","type":"quantitative","axis":{"values":[60,80,100,120]}}}},
{"data":{"values":[{"t1":0,"t2":487.7,"v":60},{"t1":0,"t2":487.7,"v":100}]},"mark":{"type":"rule","color":"#22C8F0","strokeWidth":2,"strokeDash":[2,2]},
"encoding":{"x":{"field":"t1","type":"quantitative","axis":null},"x2":{"field":"t2"},"y":{"field":"v","type":"quantitative","axis":{"values":[60,80,100,120]}}}},
{"data":{"values":[{"t":14.6,"v":6.4,"s":"<-Sleep Onset"}]},"mark":{"type":"text","color":"#0000FF","font":"DejaVu Sans Condensed, DejaVu Sans, sans-serif","fontSize":57,"align":"left","baseline":"alphabetic"},
"encoding":{"x":{"field":"t","type":"quantitative","axis":null},"y":{"field":"v","type":"quantitative","axis":{"values":[60,80,100,120]}},"text":{"field":"s"}}}
]},
{"width":2556,"height":539,"title":{"text":"B.","offset":14},
"layer":[
{"data":{"name":"b"},"mark":{"type":"rule","color":"#0000FF","strokeWidth":5},
"encoding":{"x":{"field":"t","type":"quantitative","scale":{"domain":[-23.5,487.7],"nice":false,"zero":false},"axis":null},"y":{"field":"l","type":"quantitative","scale":{"domain":[0,151.4],"nice":false,"zero":false},"axis":{"values":[60,80,100]}},"y2":{"field":"h"}}},
{"data":{"values":[{"t":10.2,"y1":0,"y2":41.7,"k":"onset"},{"t":10.2,"y1":103,"y2":150,"k":"onset"},{"t":0.1,"y1":0,"y2":150,"k":"frame"}]},"mark":{"type":"rule"},
"encoding":{"x":{"field":"t","type":"quantitative","axis":null},"y":{"field":"y1","type":"quantitative","axis":{"values":[60,80,100]}},"y2":{"field":"y2"},
"color":{"field":"k","type":"nominal","scale":{"domain":["onset","frame"],"range":["#222222","#000000"]},"legend":null},
"strokeWidth":{"field":"k","type":"nominal","scale":{"domain":["onset","frame"],"range":[2,3]},"legend":null}}},
{"data":{"values":[{"t1":10.2,"t2":107.4,"y1":41.7,"y2":103}]},"mark":{"type":"rect","color":"#FFFF00","opacity":0.2},
"encoding":{"x":{"field":"t1","type":"quantitative","axis":null},"x2":{"field":"t2"},"y":{"field":"y1","type":"quantitative","axis":{"values":[60,80,100]}},"y2":{"field":"y2"}}},
{"data":{"values":[{"t1":0,"t2":487.7,"v":150}]},"mark":{"type":"rule","color":"black","strokeWidth":3},
"encoding":{"x":{"field":"t1","type":"quantitative","axis":null},"x2":{"field":"t2"},"y":{"field":"v","type":"quantitative","axis":{"values":[60,80,100]}}}},
{"data":{"values":[{"t1":0,"t2":487.7,"v":60},{"t1":0,"t2":487.7,"v":100}]},"mark":{"type":"rule","color":"#22C8F0","strokeWidth":2,"strokeDash":[2,2]},
"encoding":{"x":{"field":"t1","type":"quantitative","axis":null},"x2":{"field":"t2"},"y":{"field":"v","type":"quantitative","axis":{"values":[60,80,100]}}}},
{"data":{"values":[{"t":13.2,"v":8.3,"s":"<-Sleep Onset"}]},"mark":{"type":"text","color":"#0000FF","font":"DejaVu Sans Condensed, DejaVu Sans, sans-serif","fontSize":57,"align":"left","baseline":"alphabetic"},
"encoding":{"x":{"field":"t","type":"quantitative","axis":null},"y":{"field":"v","type":"quantitative","axis":{"values":[60,80,100]}},"text":{"field":"s"}}}
]}
]
}
